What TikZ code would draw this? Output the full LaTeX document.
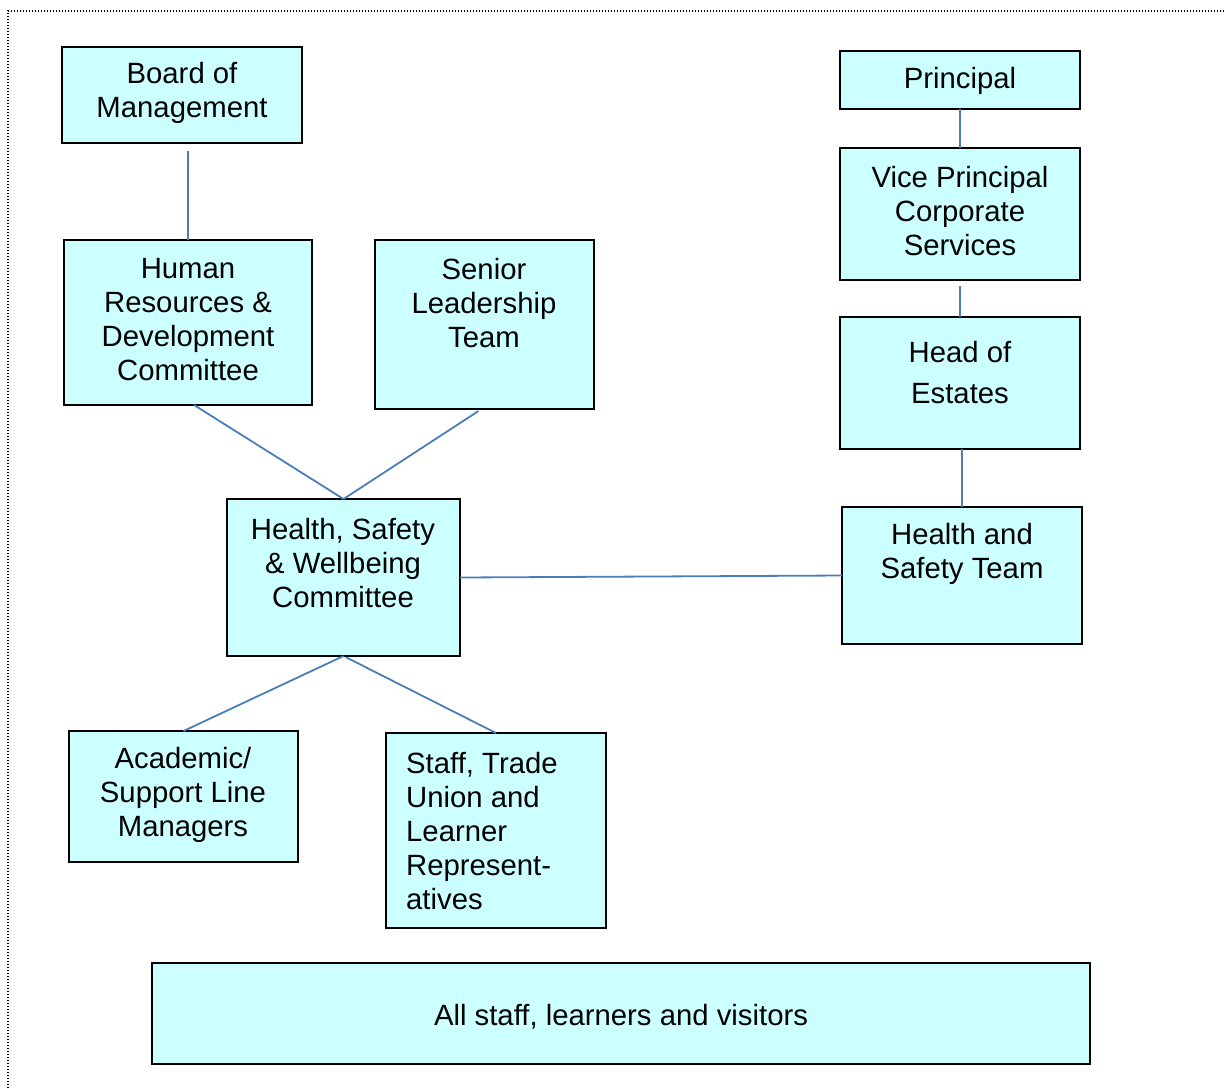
\documentclass[tikz,border=0pt]{standalone}
\usepackage{fontspec}
\setmainfont{Liberation Sans}
\begin{document}
\begin{tikzpicture}[x=1pt,y=-1pt,
  box/.style={draw=black, line width=2pt, fill=boxfill, rectangle, inner sep=0pt, outer sep=0pt},
  lbl/.style={inner sep=0pt, align=center, font=\fontsize{29.3}{34}\selectfont},
  link/.style={draw=linkblue, line width=1.8pt}]
\definecolor{boxfill}{HTML}{CCFFFF}
\definecolor{linkblue}{HTML}{4A7EBB}
\useasboundingbox (0,0) rectangle (1224,1088);
\draw[line width=1.2pt, dash pattern=on 1.2pt off 1.8pt] (8,1088) -- (8,11) -- (1224,11);

% boxes
\node[box, minimum width=240pt, minimum height=96pt]  (board) at (182,95) {};
\node[box, minimum width=240pt, minimum height=58pt]  (principal) at (960,80) {};
\node[box, minimum width=240pt, minimum height=132pt] (vp) at (960,214) {};
\node[box, minimum width=240pt, minimum height=132pt] (hoe) at (960,383) {};
\node[box, minimum width=240pt, minimum height=137pt] (hst) at (962,575.5) {};
\node[box, minimum width=248pt, minimum height=165pt] (hr) at (188,322.5) {};
\node[box, minimum width=219pt, minimum height=169pt] (slt) at (484.5,324.5) {};
\node[box, minimum width=233pt, minimum height=157pt] (hsw) at (343.5,577.5) {};
\node[box, minimum width=229pt, minimum height=131pt] (acad) at (183.5,796.5) {};
\node[box, minimum width=220pt, minimum height=195pt] (staff) at (496,830.5) {};
\node[box, minimum width=938pt, minimum height=101pt] (all) at (621,1013.5) {};

% labels
\node[lbl] (tboard) at (182,93) {Board of\\Management};
\node[lbl] (tprincipal) at (960,81) {Principal};
\node[lbl] (tvp) at (960,211) {Vice Principal\\Corporate\\Services};
\node[lbl, font=\fontsize{29.3}{41}\selectfont] (thoe) at (960,373) {Head of\\Estates};
\node[lbl] (thst) at (962,554) {Health and\\Safety Team};
\node[lbl] (thr) at (188,320) {Human\\Resources \&\\Development\\Committee};
\node[lbl] (tslt) at (484,303) {Senior\\Leadership\\Team};
\node[lbl] (thsw) at (343,563) {Health, Safety\\\& Wellbeing\\Committee};
\node[lbl] (tacad) at (183,795) {Academic/\\Support Line\\Managers};
\node[lbl, align=left, anchor=west] (tstaff) at (406,831) {Staff, Trade\\Union and\\Learner\\Represent-\\atives};
\node[lbl] (tall) at (621,1017) {All staff, learners and visitors};

% connectors
\draw[link, shorten <=8pt] (hr.north |- board.south) -- (hr.north);
\draw[link] (principal.south) -- (vp.north);
\draw[link, shorten <=6pt] (vp.south) -- (hoe.north);
\draw[link] (hst.north |- hoe.south) -- (hst.north);
\draw[link] ([xshift=6pt]hr.south) -- (hsw.north);
\draw[link] ([xshift=-6pt,yshift=-2pt]slt.south) -- (hsw.north);
\draw[link] (hsw.east) -- (hst.west);
\draw[link] (hsw.south) -- (acad.north);
\draw[link, shorten <=3pt] (hsw.south) -- (staff.north);
\end{tikzpicture}
\end{document}
